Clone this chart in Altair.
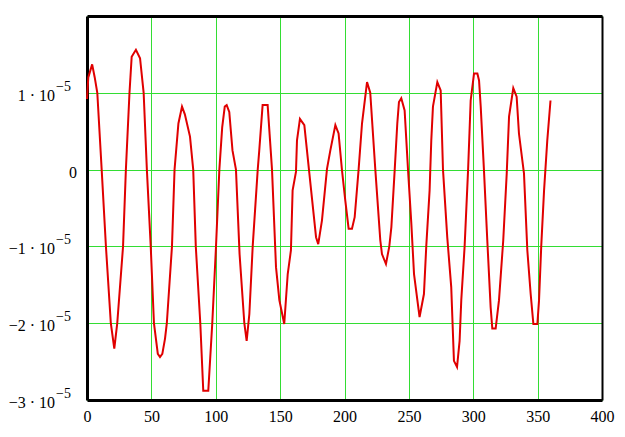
import altair as alt
import pandas as pd

# x positions and values (in units of 1e-5)
xs = [0, 1, 4, 6, 8, 11.4, 14.7, 18.5, 21.2, 23.5, 28, 30.2, 33, 34.7, 38, 41.2, 44, 46.5,
      49.5, 52, 55, 56.7, 58.5, 60.6, 62, 66, 68, 71, 73.8, 76, 80, 82.5, 84.5, 88, 90.3,
      94.2, 97.3, 100.2, 102.8, 105, 107, 108.5, 110.5, 113, 115.7, 118.5, 122.2, 124,
      126.1, 128.7, 132.6, 133.8, 136.4, 140.3, 143.7, 146.8, 149.4, 153.2, 155.9, 158.4,
      159.7, 162.3, 163.1, 165.4, 168.8, 172.7, 177.9, 179.6, 182.5, 186.4, 189, 192.9,
      195.4, 198, 200.6, 203.2, 205.8, 207.9, 211, 213.6, 217.5, 220, 223.9, 227.8, 229.1,
      232.2, 234.8, 236.4, 239, 241, 242.3, 244.1, 246.7, 249.3, 251.9, 254, 258.3, 261.7,
      263.5, 266.1, 267.4, 268.7, 272.1, 274.7, 276.5, 279.8, 282.9, 285, 287.4, 289.4,
      290.7, 293.3, 296, 298, 300.6, 303.2, 304.5, 305.8, 308.3, 310.9, 313.5, 314.8, 317.4,
      320, 323.3, 326, 327.8, 331.1, 333.7, 335.5, 339.4, 342, 344.6, 346.7, 349.8, 351.1,
      352.8, 355, 357.5, 360]
ys = [0.92, 1.2, 1.37, 1.2, 1.0, 0, -1.0, -2.0, -2.33, -2.0, -1.0, 0, 1.0, 1.47, 1.56, 1.45,
      1.0, 0, -1.0, -2.0, -2.4, -2.44, -2.4, -2.2, -2.0, -1.0, 0, 0.6, 0.82, 0.72, 0.43, 0,
      -1.0, -2.0, -2.88, -2.88, -2.0, -1.0, 0, 0.55, 0.82, 0.84, 0.75, 0.25, 0, -1.1, -2.0,
      -2.23, -1.88, -1.0, 0, 0.25, 0.84, 0.84, 0, -1.27, -1.7, -2.01, -1.36, -1.05, -0.27,
      -0.03, 0.38, 0.66, 0.58, -0.05, -0.88, -0.97, -0.66, 0.01, 0.25, 0.58, 0.47, 0, -0.4,
      -0.77, -0.77, -0.62, 0.01, 0.6, 1.14, 1.0, 0.01, -0.92, -1.1, -1.23, -1.0, -0.75, 0,
      0.6, 0.88, 0.93, 0.77, 0.01, -0.7, -1.36, -1.92, -1.62, -1.0, -0.27, 0.38, 0.82, 1.14,
      1.03, 0, -0.88, -1.53, -2.49, -2.57, -2.23, -1.7, -1.0, 0, 0.9, 1.25, 1.25, 1.16, 0.82,
      0, -0.92, -1.79, -2.07, -2.07, -1.7, -0.92, -0.05, 0.69, 1.06, 0.95, 0.47, -0.05, -1.05,
      -1.62, -2.01, -2.01, -1.7, -1.0, -0.27, 0.38, 0.9]

x_ticks = [0, 50, 100, 150, 200, 250, 300, 350, 400]
y_grid_e5 = [-3, -2, -1, 0, 1, 2]
# y tick labels: value (in 1e-5), mantissa text, exponent text
y_label_vals = [1, -1, -2, -3]
y_label_mant = ["1 \u00b7 10", "\u22121 \u00b7 10", "\u22122 \u00b7 10", "\u22123 \u00b7 10"]
y_label_exp = ["\u22125", "\u22125", "\u22125", "\u22125"]
zero_label = "0"

df = pd.DataFrame({"x": xs, "y": [v * 1e-5 for v in ys]})
lab_df = pd.DataFrame({"v": [v * 1e-5 for v in y_label_vals], "m": y_label_mant, "e": y_label_exp})
zero_df = pd.DataFrame({"v": [0.0], "m": [zero_label]})

FONT = "'Liberation Serif', 'Times New Roman', Times, serif"
GRID = "#33dd33"

x_scale = alt.Scale(domain=[0, 400], nice=False, zero=False)
y_scale = alt.Scale(domain=[-3e-5, 2e-5], nice=False, zero=False)

main = alt.Chart(df).mark_line(color="#e00000", strokeWidth=2).encode(
    x=alt.X("x:Q", scale=x_scale,
            axis=alt.Axis(values=x_ticks, title=None, grid=True, gridColor=GRID,
                          gridWidth=1, gridOpacity=1, domain=True, domainColor="black",
                          domainWidth=3, ticks=False, labelFont=FONT, labelFontSize=16,
                          labelColor="black", labelPadding=8, labelFlush=False)),
    y=alt.Y("y:Q", scale=y_scale,
            axis=alt.Axis(values=[v * 1e-5 for v in y_grid_e5], title=None, grid=True,
                          gridColor=GRID, gridWidth=1, gridOpacity=1, domain=True,
                          domainColor="black", domainWidth=3, ticks=False, labels=False)),
)

frame = alt.Chart(df).mark_line(opacity=0).encode(
    x=alt.X("x:Q", scale=x_scale,
            axis=alt.Axis(orient="top", values=x_ticks, title=None, grid=False, labels=False,
                          ticks=False, domain=True, domainColor="black", domainWidth=3)),
    y=alt.Y("y:Q", scale=y_scale,
            axis=alt.Axis(orient="right", values=[0], title=None, grid=False, labels=False,
                          ticks=False, domain=True, domainColor="black", domainWidth=2)),
)

mant = alt.Chart(lab_df).mark_text(align="right", baseline="middle", dy=3, fontSize=16,
                                   font=FONT, color="black").encode(
    x=alt.value(-32), y=alt.Y("v:Q", scale=y_scale, axis=None), text="m:N")

expo = alt.Chart(lab_df).mark_text(align="left", baseline="middle", dy=-6, fontSize=14,
                                   font=FONT, color="black").encode(
    x=alt.value(-31), y=alt.Y("v:Q", scale=y_scale, axis=None), text="e:N")

zero = alt.Chart(zero_df).mark_text(align="right", baseline="middle", dy=3, fontSize=16,
                                    font=FONT, color="black").encode(
    x=alt.value(-10), y=alt.Y("v:Q", scale=y_scale, axis=None), text="m:N")

chart = alt.layer(frame, main, mant, expo, zero).resolve_axis(
    x="independent", y="independent").properties(
    width=515, height=384,
    autosize=alt.AutoSizeParams(type="none"),
    padding={"left": 79, "top": 8, "right": 15, "bottom": 29},
).configure_view(stroke=None).configure(background="white")

chart.save("out.html", embed_options={"renderer": "svg", "actions": False})
